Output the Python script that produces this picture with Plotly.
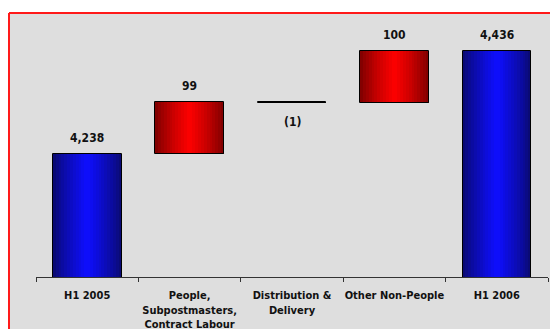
import plotly.graph_objects as go

categories = ["H1 2005", "People,<br>Subpostmasters,<br>Contract Labour",
              "Distribution &<br>Delivery", "Other Non-People", "H1 2006"]
values = [4238, 99, -1, 100, 4436]
kinds = ["total", "delta", "delta", "delta", "total"]
labels = ["4,238", "99", "(1)", "100", "4,436"]

# compute bases/heights for waterfall
bases, heights = [], []
running = 0
for v, k in zip(values, kinds):
    if k == "total":
        bases.append(0)
        heights.append(v)
        running = v
    else:
        bases.append(running)
        heights.append(v)
        running += v

BAR_W = 0.67
N = 24

def lerp(c1, c2, t):
    return "rgb(%d,%d,%d)" % tuple(round(a + (b - a) * t) for a, b in zip(c1, c2))

blue_edge, blue_mid = (10, 10, 105), (14, 14, 255)
red_edge, red_mid = (120, 0, 0), (255, 0, 0)

fig = go.Figure()
for i in range(N):
    t = abs((i + 0.5) - N / 2) / (N / 2)  # 0 center, 1 edge
    s = (1 - t) ** 0.8
    colors = []
    for k, v in zip(kinds, values):
        if k == "total":
            colors.append(lerp(blue_edge, blue_mid, s))
        elif v < 0:
            colors.append("#111111")
        else:
            colors.append(lerp(red_edge, red_mid, s))
    fig.add_trace(go.Bar(
        x=categories, y=heights, base=bases,
        width=BAR_W / N * 1.05, offset=-BAR_W / 2 + i * BAR_W / N,
        marker=dict(color=colors, line=dict(width=0)),
        hoverinfo="skip", showlegend=False))

# outline
fig.add_trace(go.Bar(
    x=categories, y=heights, base=bases,
    width=BAR_W, offset=-BAR_W / 2,
    marker=dict(color="rgba(0,0,0,0)", line=dict(color="black", width=1)),
    showlegend=False))

# value labels
for c, v, k, b, lab in zip(categories, values, kinds, bases, labels):
    if v >= 0:
        y = b + v if k == "delta" else v
        fig.add_annotation(x=c, y=y, text="<b>%s</b>" % lab, showarrow=False,
                           yanchor="bottom", yshift=7)
    else:
        fig.add_annotation(x=c, y=b + v, text="<b>%s</b>" % lab, showarrow=False,
                           yanchor="top", yshift=-10)

L, R, T, B = 36, 2, 18, 52
W, H = 550, 329
pw, ph = W - L - R, H - T - B

def px_x(p):
    return (p - L) / pw

def px_y(p):
    return (H - B - p) / ph

fig.add_shape(type="rect", xref="paper", yref="paper",
              x0=px_x(9), x1=px_x(600), y0=px_y(13), y1=px_y(400),
              fillcolor="#dedede", line=dict(width=0), layer="below")
fig.add_shape(type="line", xref="paper", yref="paper",
              x0=px_x(9), x1=px_x(600), y0=px_y(13), y1=px_y(13),
              line=dict(color="#ff1a1a", width=2), layer="below")
fig.add_shape(type="line", xref="paper", yref="paper",
              x0=px_x(9), x1=px_x(9), y0=px_y(13), y1=px_y(400),
              line=dict(color="#ff1a1a", width=2), layer="below")

fig.update_layout(
    width=W, height=H,
    margin=dict(l=L, r=R, t=T, b=B, autoexpand=False),
    paper_bgcolor="white", plot_bgcolor="rgba(0,0,0,0)",
    barmode="overlay", bargap=0,
    font=dict(family="DejaVu Sans Condensed, DejaVu Sans", size=12, color="#111111"),
    xaxis=dict(showline=True, linecolor="#333333", linewidth=1,
               ticks="outside", ticklen=4, tickcolor="#333333", tickson="boundaries",
               tickangle=0, automargin=False, ticklabelstandoff=8,
               tickfont=dict(size=11, color="#111111", family="DejaVu Sans Condensed, DejaVu Sans"),
               showgrid=False, fixedrange=True, tickprefix="<b>", ticksuffix="</b>"),
    yaxis=dict(range=[4000, 4500], visible=False, showgrid=False),
)

fig.write_html("out.html")
